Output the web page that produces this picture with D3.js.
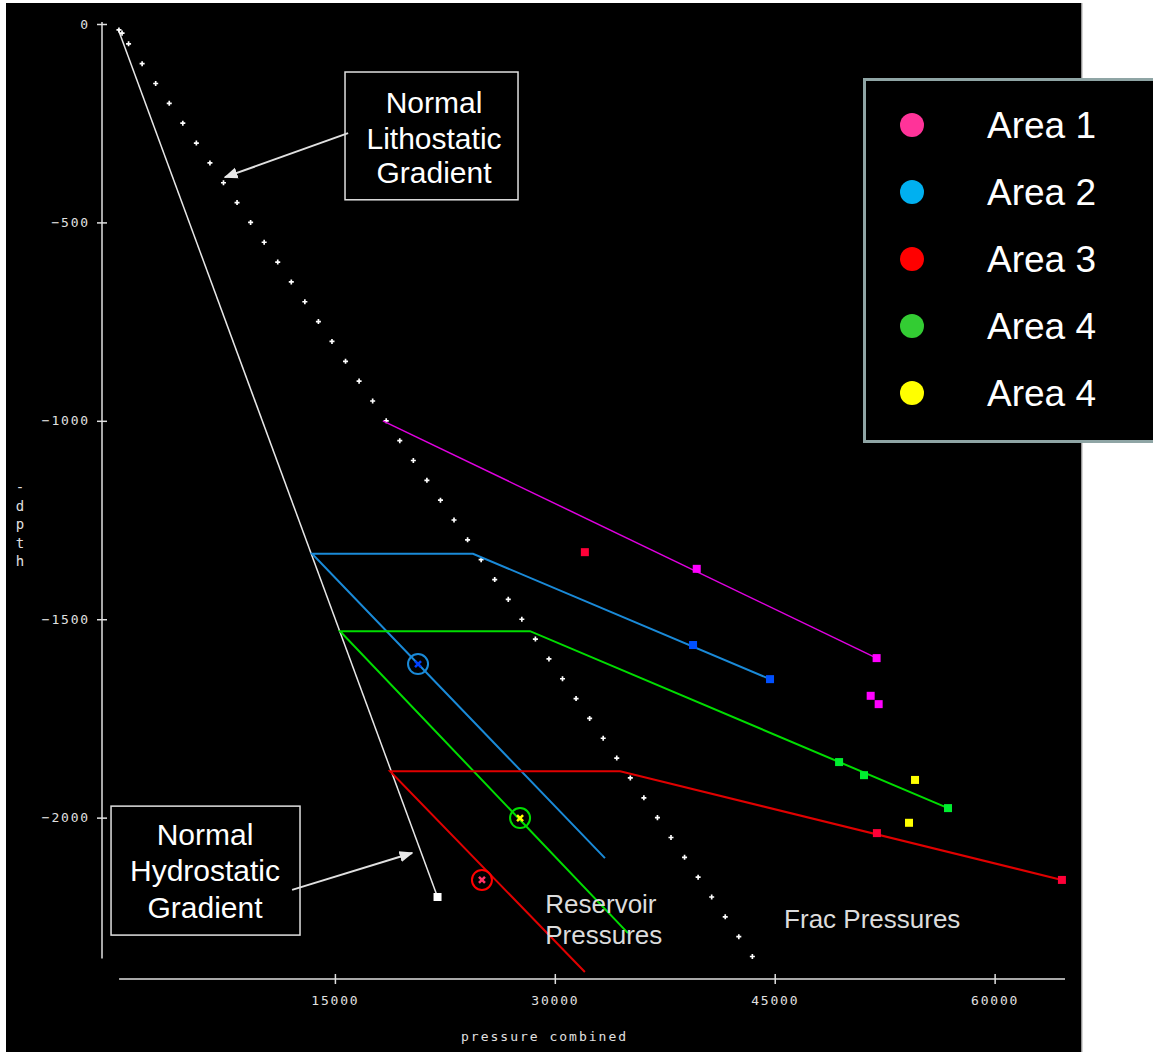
<!DOCTYPE html>
<html><head><meta charset="utf-8">
<script src="https://cdn.jsdelivr.net/npm/d3@7"></script>
<style>html,body{margin:0;padding:0;background:#fff;overflow:hidden}</style>
</head><body><svg id="c" width="1153" height="1052"></svg>
<script>
// ---------- data ----------
const xTicks = [15000, 30000, 45000, 60000];
const yTicks = [0, -500, -1000, -1500, -2000];
const xTitle = "pressure combined";
const yTitle = ["-", "d", "p", "t", "h"];

// normal lithostatic gradient (dotted "+" series)
const lithoPressure = [270, 480, 925, 1850, 2775, 3700, 4625, 5550, 6475, 7400, 8325, 9250, 10175, 11100, 12025, 12950, 13875, 14800, 15725, 16650, 17575, 18500, 19425, 20350, 21275, 22200, 23125, 24050, 24975, 25900, 26825, 27750, 28675, 29600, 30525, 31450, 32375, 33300, 34225, 35150, 36075, 37000, 37925, 38850, 39775, 40700, 41625, 42550, 43475];
const lithoDepth = [-15, -23, -50, -100, -150, -200, -250, -300, -350, -400, -450, -500, -550, -600, -650, -700, -750, -800, -850, -900, -950, -1000, -1050, -1100, -1150, -1200, -1250, -1300, -1350, -1400, -1450, -1500, -1550, -1600, -1650, -1700, -1750, -1800, -1850, -1900, -1950, -2000, -2050, -2100, -2150, -2200, -2250, -2300, -2350];

// normal hydrostatic gradient
const hydroPressure = [205, 22000];
const hydroDepth = [-12, -2200];

// Area 1 (magenta)
const area1LineP = [18270, 51950];
const area1LineD = [-1000, -1598];
const area1SqP = [39680, 51950, 51545, 52090];
const area1SqD = [-1373, -1598, -1693, -1714];
// Area 2 (blue)
const area2LineP = [33420, 13440, 24420, 44680];
const area2LineD = [-2102, -1335, -1335, -1651];
const area2SqP = [39430, 44680];
const area2SqD = [-1565, -1651];
const area2ResP = [20670];
const area2ResD = [-1613];
// Area 3 (red)
const area3LineP = [32050, 18760, 34460, 64590];
const area3LineD = [-2389, -1883, -1883, -2157];
const area3SqP = [51970, 64590, 32050];
const area3SqD = [-2039, -2157, -1331];
const area3ResP = [25030];
const area3ResD = [-2157];
// Area 4 (green)
const area4LineP = [34990, 15350, 28310, 56820];
const area4LineD = [-2291, -1530, -1530, -1976];
const area4SqP = [49390, 51090, 56820];
const area4SqD = [-1860, -1893, -1976];
const area4ResP = [27630];
const area4ResD = [-2001];
// Area 4 (yellow)
const area5SqP = [54570, 54160];
const area5SqD = [-1905, -2013];

const legendNames = ["Area 1", "Area 2", "Area 3", "Area 4", "Area 4"];
const legendColors = ["#ff3399", "#00b0f0", "#ff0000", "#33cc33", "#ffff00"];

// ---------- drawing ----------
const svg = d3.select("#c");
const x = d3.scaleLinear().domain([0, 64800]).range([115, 1065]);
const y = d3.scaleLinear().domain([0, -2355]).range([24, 958.5]);
const mono = "'DejaVu Sans Mono', monospace";
const sans = "'Liberation Sans', Arial, sans-serif";

svg.append("rect").attr("x", 6).attr("y", 3).attr("width", 1076).attr("height", 1049).attr("fill", "#000");
svg.append("line").attr("x1", 1082).attr("x2", 1082).attr("y1", 3).attr("y2", 1052).attr("stroke", "#c8c8c8").attr("stroke-width", 1.5);

const defs = svg.append("defs");
defs.append("marker").attr("id", "arr").attr("viewBox", "0 0 10 10").attr("refX", 9).attr("refY", 5)
  .attr("markerWidth", 7).attr("markerHeight", 7).attr("markerUnits", "strokeWidth").attr("orient", "auto")
  .append("path").attr("d", "M0,1 L10,5 L0,9 Z").attr("fill", "#e8e8e8");

// axes
const yAxis = svg.append("g").attr("transform", "translate(102,0)")
  .call(d3.axisLeft(y).tickValues(yTicks).tickSize(5).tickSizeOuter(0).tickPadding(7).tickFormat(d3.format("d")));
yAxis.selectAll(".tick line").attr("x1", -5).attr("x2", 5);
yAxis.select(".domain").attr("d", `M0,${y(0) - 2}V${y(-2355)}`);
const xAxis = svg.append("g").attr("transform", "translate(0,979)")
  .call(d3.axisBottom(x).tickValues(xTicks).tickSize(5).tickSizeOuter(0).tickPadding(12).tickFormat(d3.format("d")));
xAxis.selectAll(".tick line").attr("y1", -5).attr("y2", 5);
xAxis.select(".domain").attr("d", `M${x(280)},0H${x(64800)}`);
svg.selectAll(".domain, .tick line").attr("stroke", "#e0e0e0").attr("stroke-width", 1.5);
svg.selectAll(".tick text").attr("fill", "#e0e0e0").attr("font-family", mono).attr("font-size", 13)
  .attr("letter-spacing", 1.8);

svg.append("text").attr("x", x(29300)).attr("y", 1041).attr("text-anchor", "middle").attr("letter-spacing", 2)
  .attr("fill", "#e0e0e0").attr("font-family", mono).attr("font-size", 13).text(xTitle);
svg.append("text").attr("font-family", mono).attr("font-size", 14).attr("fill", "#e0e0e0")
  .selectAll("tspan").data(yTitle).join("tspan").attr("x", 20).attr("y", (d, i) => 492 + i * 18.5)
  .attr("text-anchor", "middle").text(d => d);

const line = d3.line().x(d => x(d[0])).y(d => y(d[1]));
const pts = (P, D) => P.map((p, i) => [p, D[i]]);

// hydrostatic
svg.append("path").attr("d", line(pts(hydroPressure, hydroDepth))).attr("fill", "none").attr("stroke", "#e8e8e8").attr("stroke-width", 1.5);
svg.append("rect").attr("x", x(hydroPressure[1]) - 4).attr("y", y(hydroDepth[1]) - 4).attr("width", 8).attr("height", 8).attr("fill", "#fff");

// lithostatic dots
svg.append("g").selectAll("path").data(pts(lithoPressure, lithoDepth)).join("path")
  .attr("transform", d => `translate(${x(d[0])},${y(d[1])})`)
  .attr("d", d3.symbol(d3.symbolCross).size(14)).attr("fill", "#fff");

// area lines
const lines = [
  [area1LineP, area1LineD, "#e000e0", 1.5],
  [area2LineP, area2LineD, "#1a8ad8", 2],
  [area4LineP, area4LineD, "#00dd00", 2],
  [area3LineP, area3LineD, "#e00000", 2]
];
lines.forEach(([P, D, c, w]) => {
  svg.append("path").attr("d", line(pts(P, D))).attr("fill", "none").attr("stroke", c).attr("stroke-width", w);
});

// squares
const squares = [
  [area1SqP, area1SqD, "#ff00ff"],
  [area2SqP, area2SqD, "#0050ff"],
  [area3SqP, area3SqD, "#ff0038"],
  [area4SqP, area4SqD, "#00ee30"],
  [area5SqP, area5SqD, "#ffff00"]
];
squares.forEach(([P, D, c]) => {
  svg.append("g").selectAll("rect").data(pts(P, D)).join("rect")
    .attr("x", d => x(d[0]) - 4).attr("y", d => y(d[1]) - 4).attr("width", 8).attr("height", 8).attr("fill", c);
});

// reservoir circles
const circles = [
  [area2ResP, area2ResD, "#1a8ad8", "#0040ff"],
  [area4ResP, area4ResD, "#00dd00", "#ffff00"],
  [area3ResP, area3ResD, "#ff0000", "#ff3366"]
];
circles.forEach(([P, D, c, xc]) => {
  const g = svg.append("g").selectAll("g").data(pts(P, D)).join("g")
    .attr("transform", d => `translate(${x(d[0])},${y(d[1])})`);
  g.append("circle").attr("r", 10).attr("fill", "none").attr("stroke", c).attr("stroke-width", 2);
  g.append("path").attr("d", "M-3,-3L3,3M-3,3L3,-3").attr("stroke", xc).attr("stroke-width", 2.5);
});

// annotations (data coordinates)
const boxes = [
  { p0: 15690, p1: 27490, d0: -121, d1: -443, cx: 21760, lines: ["Normal", "Lithostatic", "Gradient"], base: [-224, -315, -401] },
  { p0: -270, p1: 12620, d0: -1971, d1: -2296, cx: 6140, lines: ["Normal", "Hydrostatic", "Gradient"], base: [-2069, -2159, -2252] }
];
boxes.forEach(b => {
  svg.append("rect").attr("x", x(b.p0)).attr("y", y(b.d0)).attr("width", x(b.p1) - x(b.p0)).attr("height", y(b.d1) - y(b.d0))
    .attr("fill", "#000").attr("stroke", "#e0e0e0").attr("stroke-width", 1.5);
  b.lines.forEach((t, i) => svg.append("text").attr("x", x(b.cx)).attr("y", y(b.base[i])).attr("text-anchor", "middle")
    .attr("fill", "#fff").attr("font-family", sans).attr("font-size", 30).text(t));
});
const arrows = [
  [15900, -275, 7500, -386],
  [12080, -2182, 20270, -2089]
];
arrows.forEach(a => {
  svg.append("line").attr("x1", x(a[0])).attr("y1", y(a[1])).attr("x2", x(a[2])).attr("y2", y(a[3]))
    .attr("stroke", "#e0e0e0").attr("stroke-width", 2).attr("marker-end", "url(#arr)");
});
const notes = [
  [29350, -2240, "Reservoir"], [29350, -2318, "Pressures"], [45640, -2278, "Frac Pressures"]
];
notes.forEach(n => svg.append("text").attr("x", x(n[0])).attr("y", y(n[1])).attr("fill", "#dcdcdc")
  .attr("font-family", sans).attr("font-size", 26).text(n[2]));

// legend
const lg = svg.append("g");
lg.append("rect").attr("x", 864.5).attr("y", 79.5).attr("width", 300).attr("height", 362).attr("fill", "#000")
  .attr("stroke", "#8fa5a5").attr("stroke-width", 3);
const li = lg.selectAll("g.item").data(legendNames).join("g").attr("class", "item")
  .attr("transform", (d, i) => `translate(0,${125 + i * 67})`);
li.append("circle").attr("cx", 912).attr("cy", 0).attr("r", 12).attr("fill", (d, i) => legendColors[i]);
li.append("text").attr("x", 987).attr("y", 13).attr("fill", "#fff").attr("font-family", sans).attr("font-size", 37).text(d => d);
</script></body></html>
